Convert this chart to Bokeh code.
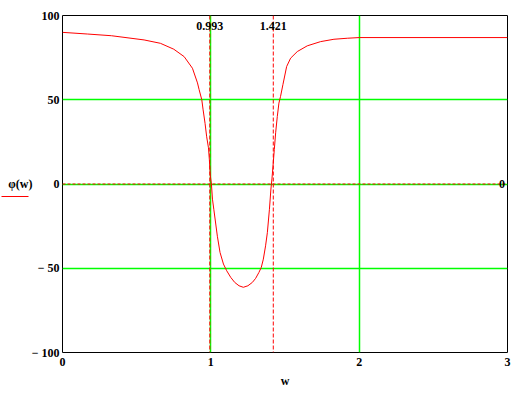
from bokeh.plotting import figure
from bokeh.models import Range1d, FixedTicker, Span, Label, LinearAxis
from bokeh.embed import file_html
from bokeh.resources import INLINE

# ---- data ----
w = [0.0, 0.17, 0.33, 0.55, 0.66, 0.75, 0.82, 0.876, 0.91, 0.921, 0.939, 0.948,
     0.961, 0.972, 0.984, 0.99, 0.997, 1.004, 1.011, 1.02, 1.044, 1.062, 1.085,
     1.107, 1.134, 1.161, 1.19, 1.219, 1.25, 1.28, 1.302, 1.324, 1.34, 1.354,
     1.369, 1.381, 1.395, 1.405, 1.412, 1.419, 1.428, 1.437, 1.448, 1.459, 1.47,
     1.486, 1.511, 1.538, 1.583, 1.65, 1.74, 1.83, 1.92, 2.0, 3.0]
phi = [90.0, 89.0, 88.0, 85.5, 83.5, 80.0, 75.6, 68.7, 60.0, 56.0, 50.0, 44.0,
       36.0, 28.0, 21.5, 14.5, 4.7, 0.0, -9.0, -15.0, -31.0, -40.6, -47.5,
       -51.5, -55.4, -58.4, -60.4, -61.3, -60.4, -58.4, -56.0, -52.5, -49.5, -44.6,
       -36.7, -28.9, -15.0, -3.0, 3.0, 10.6, 20.5, 30.4, 40.0, 48.0, 52.0,
       59.0, 69.7, 74.7, 78.6, 82.0, 84.5, 85.9, 86.5, 86.9, 86.9]
marker_x = [0.993, 1.421]
marker_x_labels = ["0.993", "1.421"]
marker_y = [0]
marker_y_labels = ["0"]
x_ticks = [0, 1, 2, 3]
y_ticks = [-100, -50, 0, 50, 100]
y_tick_labels = {-100: "\u2212 100", -50: "\u2212 50", 0: "0", 50: "50", 100: "100"}
x_grid = [1, 2]
y_grid = [-50, 0, 50]
x_label = "w"
y_label = "\u03c6(w)"
trace_sample_at = [-7.5]   # Mathcad trace-style sample drawn under the y label

FONT = "Liberation Serif"
RED = "#ff0000"
GREEN = "#00ff00"

p = figure(width=520, height=395, output_backend="svg", toolbar_location=None,
           x_range=Range1d(0, 3), y_range=Range1d(-100, 100),
           min_border_left=62, min_border_right=13, min_border_top=15,
           min_border_bottom=43)
p.background_fill_color = "white"
p.border_fill_color = "white"
p.outline_line_color = "black"
p.outline_line_width = 1
p.outline_line_alpha = 1

for ax in (p.xaxis[0], p.yaxis[0]):
    ax.axis_line_color = None
    ax.major_tick_line_color = None
    ax.minor_tick_line_color = None
    ax.major_tick_in = 0
    ax.major_tick_out = 0
    ax.major_label_text_font = FONT
    ax.major_label_text_font_size = "12px"
    ax.major_label_text_font_style = "bold"
    ax.major_label_text_color = "black"

p.xaxis.ticker = FixedTicker(ticks=x_ticks)
p.yaxis.ticker = FixedTicker(ticks=y_ticks)
p.yaxis.major_label_overrides = y_tick_labels
p.yaxis.major_label_standoff = 3
p.xaxis.major_label_standoff = 5

p.xaxis.axis_label = x_label
p.xaxis.axis_label_text_font = FONT
p.xaxis.axis_label_text_font_size = "12px"
p.xaxis.axis_label_text_font_style = "bold"
p.xaxis.axis_label_text_color = "black"
p.xaxis.axis_label_standoff = 5

# outer left axis: red trace sample (as a tick) with the y label above it
yl = LinearAxis(ticker=FixedTicker(ticks=trace_sample_at))
yl.axis_line_color = None
yl.minor_tick_line_color = None
yl.major_tick_line_color = RED
yl.major_tick_line_width = 1
yl.major_tick_in = 0
yl.major_tick_out = 27
yl.major_label_overrides = {trace_sample_at[0]: ""}
yl.major_label_text_font_size = "1px"
yl.major_label_standoff = 0
yl.axis_label = y_label
yl.axis_label_orientation = "horizontal"
yl.axis_label_standoff = -31
yl.axis_label_text_font = FONT
yl.axis_label_text_font_size = "12px"
yl.axis_label_text_font_style = "bold"
yl.axis_label_text_color = "black"
p.add_layout(yl, "left")

p.xgrid.ticker = FixedTicker(ticks=x_grid)
p.ygrid.ticker = FixedTicker(ticks=y_grid)
for g in (p.xgrid[0], p.ygrid[0]):
    g.grid_line_color = GREEN
    g.grid_line_width = 1.5
    g.grid_line_alpha = 1

curve = p.line(w, phi, line_color=RED, line_width=1)

for xv in marker_x:
    p.add_layout(Span(location=xv, dimension="height", line_color=RED,
                      line_dash="4 2", line_width=1))
for yv in marker_y:
    p.add_layout(Span(location=yv, dimension="width", line_color=RED,
                      line_dash="3 2", line_width=1))

for xv, txt in zip(marker_x, marker_x_labels):
    p.add_layout(Label(x=xv, y=94.0, text=txt, text_align="center",
                       text_baseline="middle", text_font=FONT,
                       text_font_size="12px", text_font_style="bold",
                       text_color="black"))
for yv, txt in zip(marker_y, marker_y_labels):
    p.add_layout(Label(x=2.983, y=yv, text=txt, text_align="right",
                       text_baseline="middle", text_font=FONT,
                       text_font_size="12px", text_font_style="bold",
                       text_color="black"))

open("out.html", "w").write(file_html(p, INLINE))
